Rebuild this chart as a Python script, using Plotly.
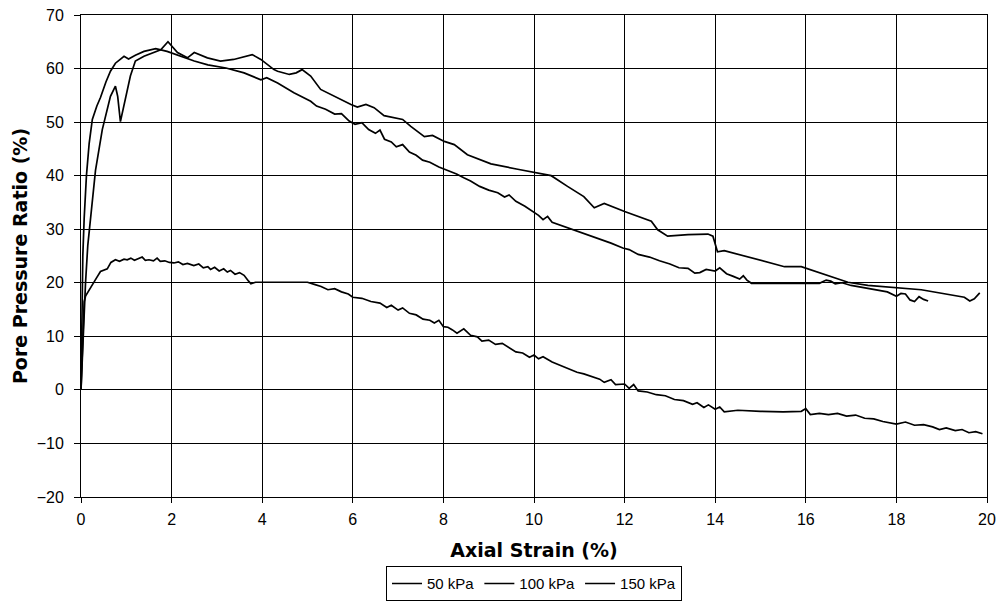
import plotly.graph_objects as go

# Axial strain (%) and pore pressure ratio (%)
strain_50 = [0, 0.04, 0.07, 0.1, 0.2, 0.28, 0.35, 0.43, 0.5, 0.58, 0.66, 0.76, 0.85, 0.95, 1.02, 1.1, 1.18,
             1.27, 1.35, 1.42, 1.5, 1.6, 1.68, 1.75, 1.85, 1.95, 2.05, 2.15, 2.25, 2.35, 2.49, 2.6, 2.7, 2.8,
             2.86, 2.95, 3.05, 3.15, 3.23, 3.3, 3.4, 3.5, 3.6, 3.7, 3.75, 3.85, 4.0, 4.5, 5.0, 5.15, 5.3,
             5.45, 5.6, 5.75, 5.9, 6.0, 6.2, 6.4, 6.6, 6.75, 6.85, 7.0, 7.1, 7.25, 7.4, 7.55, 7.7, 7.8, 7.9,
             8.0, 8.1, 8.2, 8.3, 8.45, 8.6, 8.75, 8.85, 9.0, 9.15, 9.3, 9.45, 9.6, 9.75, 9.9, 10.0, 10.1,
             10.2, 10.4, 10.6, 10.8, 10.95, 11.1, 11.3, 11.45, 11.55, 11.7, 11.8, 12.0, 12.1, 12.2, 12.3,
             12.5, 12.7, 12.9, 13.1, 13.3, 13.5, 13.6, 13.75, 13.85, 14.0, 14.1, 14.2, 14.35, 14.5, 15.0,
             15.5, 15.9, 16.0, 16.1, 16.3, 16.5, 16.7, 16.9, 17.1, 17.3, 17.5, 17.7, 17.9, 18.0, 18.2, 18.4,
             18.6, 18.8, 18.95, 19.1, 19.3, 19.45, 19.6, 19.75, 19.9]
ratio_50 = [0, 10, 16.5, 17.5, 18.8, 19.9, 21, 22.1, 22.3, 22.6, 23.8, 24.3, 24.0, 24.4, 24.3, 24.6, 24.2,
            24.5, 24.8, 24.2, 24.3, 24.1, 24.6, 24.0, 24.1, 23.8, 23.7, 23.9, 23.4, 23.6, 23.2, 23.5, 22.8,
            23.0, 22.5, 22.9, 22.2, 22.6, 22.0, 22.3, 21.6, 21.9, 21.4, 20.3, 19.8, 20.1, 20.1, 20.1, 20.1,
            19.7, 19.3, 18.7, 18.9, 18.3, 17.9, 17.3, 17.1, 16.5, 16.2, 15.4, 15.8, 14.9, 15.3, 14.3, 14.0,
            13.2, 13.0, 12.5, 13.0, 11.8, 11.7, 11.2, 10.6, 11.4, 10.2, 9.9, 9.1, 9.3, 8.5, 8.7, 7.9, 7.1,
            6.9, 6.1, 6.5, 5.8, 6.2, 5.2, 4.5, 3.8, 3.3, 3.0, 2.5, 2.0, 1.4, 1.9, 1.0, 1.1, 0.3, 1.0, -0.2,
            -0.4, -0.9, -1.1, -1.8, -2.0, -2.7, -2.4, -3.3, -2.8, -3.6, -3.2, -4.1, -3.9, -3.8, -4.0, -4.1,
            -4.0, -3.5, -4.6, -4.4, -4.6, -4.4, -4.9, -4.7, -5.3, -5.4, -5.9, -6.2, -6.4, -6.0, -6.6, -6.5,
            -6.9, -7.4, -7.1, -7.6, -7.4, -8.0, -7.8, -8.2]

strain_100 = [0, 0.02, 0.04, 0.07, 0.12, 0.18, 0.25, 0.35, 0.43, 0.55, 0.65, 0.76, 0.95, 1.05, 1.2, 1.39,
              1.65, 1.9, 2.2, 2.5, 2.8, 3.2, 3.6, 3.97, 4.1, 4.34, 4.7, 5.07, 5.2, 5.4, 5.6, 5.75, 5.92,
              6.05, 6.2, 6.35, 6.5, 6.6, 6.7, 6.85, 6.96, 7.1, 7.25, 7.4, 7.54, 7.7, 7.9, 8.1, 8.29, 8.45,
              8.6, 8.8, 9.0, 9.2, 9.35, 9.45, 9.6, 9.8, 9.97, 10.1, 10.2, 10.3, 10.4, 10.6, 10.8, 11.07,
              11.3, 11.45, 11.7, 11.96, 12.1, 12.3, 12.55, 12.77, 13.0, 13.2, 13.4, 13.55, 13.66, 13.8,
              14.0, 14.1, 14.25, 14.4, 14.54, 14.62, 14.7, 14.8, 15.5, 16.3, 16.45, 16.55, 16.65, 16.8,
              17.0, 17.35, 17.6, 17.8, 18.0, 18.1, 18.2, 18.3, 18.4, 18.5, 18.6, 18.7]
ratio_100 = [0, 15, 25, 32, 40, 46, 50.5, 53, 54.6, 57.5, 59.5, 61, 62.3, 61.8, 62.5, 63.2, 63.7, 63.2,
             62.3, 61.4, 60.7, 60.1, 59.2, 57.9, 58.3, 57.3, 55.5, 53.9, 53.0, 52.4, 51.5, 51.6, 50.2,
             49.6, 49.9, 48.6, 47.9, 48.5, 46.8, 46.3, 45.4, 45.8, 44.4, 43.8, 42.9, 42.5, 41.6, 41.0,
             40.3, 39.6, 39.0, 38.0, 37.3, 36.8, 36.0, 36.4, 35.2, 34.3, 33.4, 32.6, 31.8, 32.4, 31.3,
             30.7, 30.0, 29.3, 28.6, 28.2, 27.4, 26.5, 26.2, 25.3, 24.8, 24.1, 23.5, 22.8, 22.7, 21.8,
             21.9, 22.5, 22.2, 22.8, 21.7, 21.2, 20.7, 21.3, 20.5, 19.9, 19.9, 19.9, 20.5, 20.3, 19.8,
             20.0, 19.5, 19.0, 18.6, 18.3, 17.5, 18.0, 17.9, 16.8, 16.5, 17.4, 16.9, 16.6]

strain_150 = [0, 0.05, 0.1, 0.15, 0.21, 0.32, 0.47, 0.65, 0.76, 0.81, 0.87, 0.95, 1.09, 1.2, 1.39, 1.76,
              1.92, 2.13, 2.35, 2.5, 2.79, 3.08, 3.37, 3.78, 3.97, 4.26, 4.34, 4.6, 4.75, 4.88, 5.07, 5.29,
              5.59, 5.96, 6.1, 6.29, 6.47, 6.69, 7.1, 7.28, 7.58, 7.76, 8.02, 8.24, 8.53, 9.05, 9.64, 10.38,
              10.74, 11.1, 11.33, 11.55, 12.0, 12.59, 12.73, 12.95, 13.4, 13.84, 13.95, 14.02, 14.05, 14.2,
              14.8, 15.53, 15.9, 16.64, 16.93, 17.37, 18.55, 19.5, 19.62, 19.72, 19.84]
ratio_150 = [0, 12, 20, 27, 32, 41, 48.6, 54.8, 56.7, 54.8, 50.1, 53, 58.6, 61.4, 62.3, 63.5, 65, 63,
             62, 63, 62, 61.4, 61.7, 62.6, 61.7, 59.8, 59.5, 58.9, 59.2, 59.8, 58.6, 56.1, 54.8, 53.3,
             52.8, 53.3, 52.7, 51.2, 50.5, 49.2, 47.3, 47.5, 46.4, 45.8, 43.9, 42.2, 41.2, 40.0, 38.0,
             36.1, 34.0, 34.8, 33.3, 31.5, 29.9, 28.7, 29.0, 29.1, 28.7, 26.5, 25.8, 26.0, 24.7, 23.0,
             23.0, 21.0, 20.1, 19.5, 18.7, 17.3, 16.6, 17.0, 18.1]

series = [("50 kPa", strain_50, ratio_50),
          ("100 kPa", strain_100, ratio_100),
          ("150 kPa", strain_150, ratio_150)]

fig = go.Figure()
for name, xs, ys in series:
    fig.add_trace(go.Scatter(x=xs, y=ys, mode="lines", name=name,
                             line=dict(color="black", width=1.7)))

axis_font = dict(family="Liberation Sans, Arial", size=16, color="black")
title_font = dict(family="DejaVu Sans", size=19, color="black")

fig.update_layout(
    width=1004, height=603,
    margin=dict(l=81, r=17, t=15, b=106, autoexpand=False),
    plot_bgcolor="white", paper_bgcolor="white",
    showlegend=True,
    legend=dict(orientation="h", x=0.5, xanchor="center", y=-0.18, yanchor="middle",
                bordercolor="black", borderwidth=1, bgcolor="white",
                font=dict(family="Liberation Sans, Arial", size=15, color="black"),
                itemwidth=30),
    xaxis=dict(range=[0, 20], tickvals=list(range(0, 21, 2)), showgrid=True, gridcolor="black",
               gridwidth=1, showline=True, linecolor="black", mirror=True, zeroline=False,
               ticks="outside", ticklen=5, tickcolor="black", tickfont=axis_font,
               ticklabelstandoff=3, automargin=False,
               title=dict(text="<b>Axial Strain (%)</b>", font=title_font, standoff=16)),
    yaxis=dict(range=[-20, 70], tickvals=list(range(-20, 71, 10)), showgrid=True, gridcolor="black",
               gridwidth=1, showline=True, linecolor="black", mirror=True, zeroline=False,
               ticks="outside", ticklen=6, tickcolor="black", tickfont=axis_font,
               ticklabelstandoff=7, automargin=False,
               title=dict(text="<b>Pore Pressure Ratio (%)</b>", font=title_font, standoff=4)),
)

# drop the default page margin so the figure sits at the window's origin
fig.write_html("out.html", config={"displayModeBar": False},
               post_script="document.body.style.margin = '0';")
